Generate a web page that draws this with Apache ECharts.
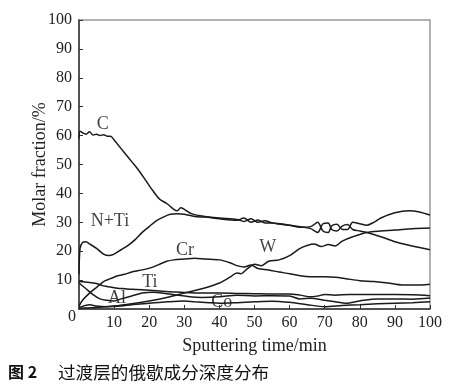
<!DOCTYPE html>
<html><head><meta charset="utf-8">
<script src="https://cdn.jsdelivr.net/npm/echarts@6/dist/echarts.min.js"></script>
<style>html,body{margin:0;padding:0;background:#fff}#c{width:453px;height:391px}</style>
</head><body><div id="c"></div>
<script>
const xTicks = [0,10,20,30,40,50,60,70,80,90,100];
const yTicks = [0,10,20,30,40,50,60,70,80,90,100];
const seriesC = [[0,59],[0.3,61.5],[1,61],[2,60.5],[3,61.3],[4,60.2],[5,60.5],[6,60],[7,60.3],[8,59.8],[9,59.8],[10,58.5],[11,57],[13,54],[15,51],[17,48],[19,44.5],[21,41],[23,38],[25,36.5],[27,34.5],[28,34],[29,35],[30,34.5],[32,33],[35,32.2],[40,31.5],[45,31],[47,30.3],[49,31.2],[51,30],[53,30.5],[55,29.8],[58,29.2],[60,29],[63,28.5],[66,27.8],[68,26.5],[69.5,29.5],[71,29.8],[72,27.5],[73.5,27],[75,28.7],[76.5,29.2],[78,27.5],[80,27],[82,26.5],[86,25],[90,23.3],[95,21.8],[100,20.5]];
const seriesNTi = [[0,12],[0.3,21],[1,23],[2,23.3],[3,22.5],[5,21],[7,19],[8.5,18.5],[10,19],[12,20.5],[14,22],[16,24],[18,26.5],[20,28.5],[22,30.5],[24,31.8],[26,32.8],[28,33],[30,32.8],[33,32],[36,31.8],[40,31.2],[45,30.7],[47,31.5],[49,30],[51,30.8],[53,29.8],[55,29.8],[58,29.4],[60,29],[63,28.3],[66,28.5],[68,30],[69.5,27],[71,26.5],[72,28.8],[73.5,29.3],[75,27.5],[76.5,27.5],[78,30],[80,29.5],[82,29],[84,30],[86,31.5],[90,33.3],[94,34],[97,33.6],[100,32.5]];
const seriesW = [[0,0.3],[5,0.5],[10,1],[15,1.8],[20,2.8],[25,4],[30,5.5],[35,7],[40,9],[43,11],[45,12.5],[46,12.2],[48,14],[50,15.5],[52,15],[54,16.5],[57,17],[60,18.5],[63,21],[65,22],[67,22.5],[69,21.6],[71,22.3],[73,21.8],[75,23.5],[78,25],[82,26.5],[86,27],[90,27.3],[95,27.8],[100,28]];
const seriesCr = [[0,1],[1,3],[3,5.5],[5,7.5],[7,9.5],[9,10.5],[11,11.5],[13,12],[15,12.8],[17,13.3],[19,13.8],[21,14.5],[23,15.5],[25,16.5],[27,17],[30,17.3],[33,17.6],[36,17.3],[40,17],[43,16],[45,15],[47,14.5],[49,15.2],[51,14],[54,13.5],[57,12.8],[60,12.2],[63,11.5],[66,11.2],[70,11.2],[73,11],[76,10.5],[80,9.8],[84,9.5],[88,9],[92,8.3],[96,8.3],[100,8.6]];
const seriesTi = [[0,9.5],[3,9.2],[5,8.8],[7,8],[9,7.6],[11,7.2],[13,7],[15,6.8],[18,6.7],[20,6.5],[23,6.2],[26,6],[30,5.7],[35,5.5],[40,5.5],[45,5.4],[50,5.3],[55,5.2],[60,5.2],[63,4.8],[66,4.2],[68,4.5],[70,5],[73,4.8],[77,5],[80,5],[85,5],[90,5],[95,4.9],[100,4.6]];
const seriesAl = [[0,9],[2,7],[4,5],[6,3.5],[8,3],[10,2.8],[12,3.5],[15,4.5],[18,5.5],[21,5.8],[25,5.3],[28,4.8],[31,4.3],[35,4],[40,4.2],[45,4.8],[50,4.5],[55,4.6],[60,4.5],[63,3.5],[66,3.7],[70,3],[73,2.5],[76,2],[80,2.8],[85,3.5],[90,3.5],[95,3.4],[100,3.8]];
const seriesCo = [[0,0.5],[3,1.5],[5,1],[8,0.8],[12,1],[15,1.5],[20,2],[25,2.5],[30,2.8],[33,2.5],[37,2.2],[40,2],[45,2.2],[50,2.5],[55,2.7],[60,2.3],[65,1.5],[70,0.8],[75,1.2],[80,1.5],[85,1.8],[90,2],[95,2.2],[100,2.5]];
const labels = [["C",6.8,63.8],["N+Ti",8.8,30.4],["Cr",30.2,20.4],["W",53.8,21.5],["Ti",20.2,9.3],["Al",10.8,3.8],["Co",40.7,2.4]];

const font = '"Liberation Serif","Times New Roman",serif';
const lineStyle = {color:'#1a1a1a', width:1.5};
function mk(name, data){
  return {name, type:'line', data, showSymbol:false, symbol:'none', lineStyle, smooth:0.3, silent:true, z:3};
}
const chart = echarts.init(document.getElementById('c'), null, {renderer:'canvas'});
chart.setOption({
  animation:false,
  backgroundColor:'#fff',
  grid:{left:79, right:23, top:20, bottom:82, show:true, borderColor:'#999', borderWidth:1.5},
  xAxis:{type:'value', min:0, max:100, interval:10,
    name:'Sputtering time/min', nameLocation:'middle', nameGap:28, nameMoveOverlap:false,
    nameTextStyle:{fontFamily:font, fontSize:18, color:'#222'},
    axisLine:{onZero:false, lineStyle:{color:'#333', width:1.5}},
    axisTick:{inside:true, length:4, lineStyle:{color:'#333'}},
    axisLabel:{fontFamily:font, fontSize:16, color:'#222', margin:6, showMinLabel:false,
      formatter:v=> xTicks.includes(v) ? String(v) : ''},
    splitLine:{show:false}},
  yAxis:{type:'value', min:0, max:100, interval:10,
    name:'Molar fraction/%', nameLocation:'middle', nameGap:30, nameMoveOverlap:false,
    nameTextStyle:{fontFamily:font, fontSize:18, color:'#222'},
    axisLine:{lineStyle:{color:'#333', width:1.5}},
    axisTick:{inside:true, length:4, lineStyle:{color:'#333'}},
    axisLabel:{fontFamily:font, fontSize:16, color:'#222', margin:7, showMinLabel:false,
      formatter:v=> yTicks.includes(v) ? String(v) : ''},
    splitLine:{show:false}},
  graphic:[
    {type:'text', left:68, top:309, style:{text:'0', fontFamily:font, fontSize:16, fill:'#222'}},
    {type:'text', left:8, top:364, style:{text:'图 2', fontFamily:'"Noto Sans CJK SC"', fontSize:16, fontWeight:'bold', fill:'#111'}},
    {type:'text', left:58, top:364, style:{text:'过渡层的俄歇成分深度分布', fontFamily:'"Noto Sans CJK SC"', fontSize:17.6, fill:'#111'}}
  ],
  series:[
    mk('C',seriesC), mk('N+Ti',seriesNTi), mk('W',seriesW), mk('Cr',seriesCr),
    mk('Ti',seriesTi), mk('Al',seriesAl), mk('Co',seriesCo),
    {type:'scatter', symbolSize:0, silent:true, z:5,
     data:labels.map(l=>({value:[l[1],l[2]], label:{show:true, formatter:l[0], position:'inside', fontFamily:font, fontSize:18, color:'#111'}}))}
  ]
});
</script></body></html>
